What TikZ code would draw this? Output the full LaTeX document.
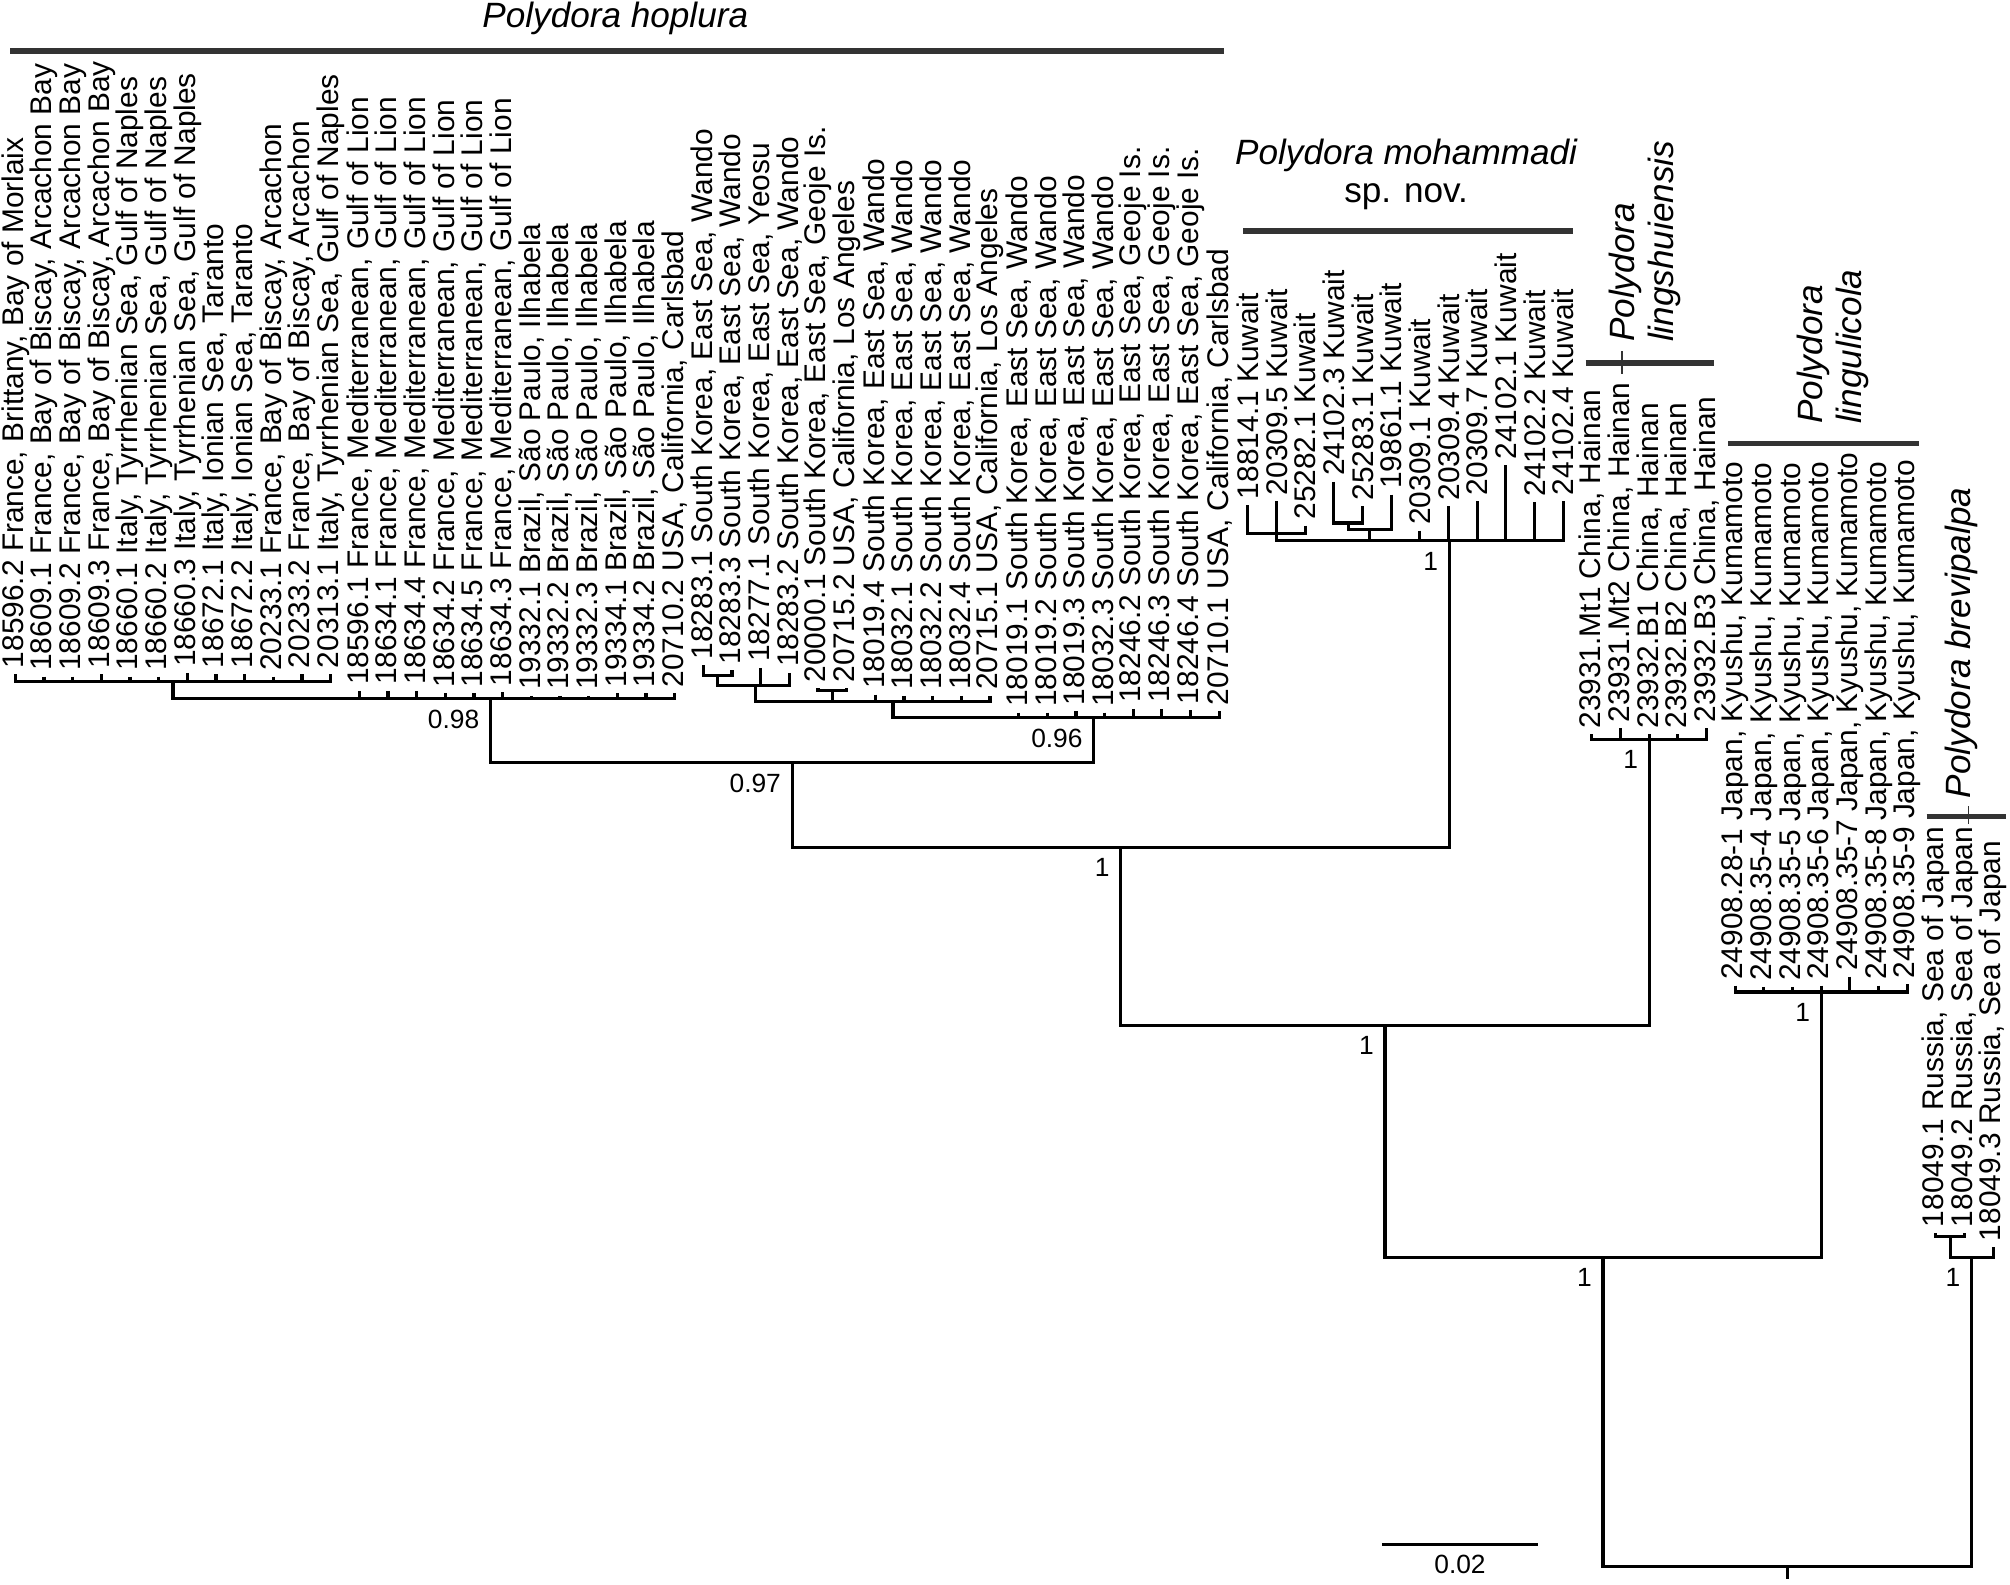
\documentclass[tikz,border=0pt]{standalone}
\usepackage{fontspec}
\setmainfont{Liberation Sans}
\usepackage{tikz}
\usepackage{xcolor}

\begin{document}
\begin{tikzpicture}[x=0.28664cm, y=-0.012819cm,
        br/.style={line width=0.9pt, line join=miter},
        tiplab/.style={rotate=90, anchor=west, inner sep=1.5pt, font=\fontsize{8.5}{10}\selectfont},
        supp/.style={anchor=north east, inner sep=1pt, xshift=-2pt, yshift=-2pt, font=\fontsize{7.5}{9}\selectfont},
        clade/.style={inner sep=1pt, font=\fontsize{10}{11}\selectfont\itshape},
        cladebar/.style={line width=1.6pt, draw=black!80},
        cladetick/.style={line width=0.4pt, draw=black!80}]
        \useasboundingbox (-0.5367,0) rectangle (69.589,1236);

        \coordinate (nA)  at ( 5.5,    532);
        \coordinate (n98) at (16.577,  545);
        \coordinate (nN1) at (24.5,    527);
        \coordinate (nN2) at (25.833,  535);
        \coordinate (nP)  at (28.5,    539);
        \coordinate (nN3) at (30.619,  547);
        \coordinate (n96) at (37.624,  560);
        \coordinate (n97) at (27.10,   595);
        \coordinate (nM1) at (44.0,    416);
        \coordinate (nM2) at (46.5,    408);
        \coordinate (nM3) at (47.25,   413);
        \coordinate (nM0) at (50.03,   422);
        \coordinate (nH)  at (38.566,  661);
        \coordinate (nL)  at (57.0,    577);
        \coordinate (nX)  at (47.783,  800);
        \coordinate (nJ)  at (63.0,    774);
        \coordinate (nY)  at (55.39,   981);
        \coordinate (nB1) at (67.5,    965);
        \coordinate (nB)  at (68.25,   981);
        \coordinate (nR)  at (61.82,  1222);
        \coordinate (root) at (61.82, 1232);

        \foreach \idx/\ytop/\anc/\lbl in {
            0/526/nA/{18596.2 France, Brittany, Bay of Morlaix},
            1/528/nA/{18609.1 France, Bay of Biscay, Arcachon Bay},
            2/528/nA/{18609.2 France, Bay of Biscay, Arcachon Bay},
            3/526/nA/{18609.3 France, Bay of Biscay, Arcachon Bay},
            4/528/nA/{18660.1 Italy, Tyrrhenian Sea, Gulf of Naples},
            5/528/nA/{18660.2 Italy, Tyrrhenian Sea, Gulf of Naples},
            6/525/nA/{18660.3 Italy, Tyrrhenian Sea, Gulf of Naples},
            7/526/nA/{18672.1 Italy, Ionian Sea, Taranto},
            8/526/nA/{18672.2 Italy, Ionian Sea, Taranto},
            9/528/nA/{20233.1 France, Bay of Biscay, Arcachon},
            10/526/nA/{20233.2 France, Bay of Biscay, Arcachon},
            11/526/nA/{20313.1 Italy, Tyrrhenian Sea, Gulf of Naples},
            12/539/n98/{18596.1 France, Mediterranean, Gulf of Lion},
            13/539/n98/{18634.1 France, Mediterranean, Gulf of Lion},
            14/539/n98/{18634.4 France, Mediterranean, Gulf of Lion},
            15/541/n98/{18634.2 France, Mediterranean, Gulf of Lion},
            16/541/n98/{18634.5 France, Mediterranean, Gulf of Lion},
            17/540/n98/{18634.3 France, Mediterranean, Gulf of Lion},
            18/543/n98/{19332.1 Brazil, São Paulo, Ilhabela},
            19/543/n98/{19332.2 Brazil, São Paulo, Ilhabela},
            20/543/n98/{19332.3 Brazil, São Paulo, Ilhabela},
            21/541/n98/{19334.1 Brazil, São Paulo, Ilhabela},
            22/541/n98/{19334.2 Brazil, São Paulo, Ilhabela},
            23/541/n98/{20710.2 USA, California, Carlsbad},
            24/519/nN1/{18283.1 South Korea, East Sea, Wando},
            25/523/nN1/{18283.3 South Korea, East Sea, Wando},
            26/521/nN2/{18277.1 South Korea, East Sea, Yeosu},
            27/525/nN2/{18283.2 South Korea, East Sea, Wando},
            28/537/nP/{20000.1 South Korea, East Sea, Geoje Is.},
            29/537/nP/{20715.2 USA, California, Los Angeles},
            30/542/nN3/{18019.4 South Korea, East Sea, Wando},
            31/543/nN3/{18032.1 South Korea, East Sea, Wando},
            32/543/nN3/{18032.2 South Korea, East Sea, Wando},
            33/543/nN3/{18032.4 South Korea, East Sea, Wando},
            34/543/nN3/{20715.1 USA, California, Los Angeles},
            35/556/n96/{18019.1 South Korea, East Sea, Wando},
            36/556/n96/{18019.2 South Korea, East Sea, Wando},
            37/555/n96/{18019.3 South Korea, East Sea, Wando},
            38/556/n96/{18032.3 South Korea, East Sea, Wando},
            39/553/n96/{18246.2 South Korea, East Sea, Geoje Is.},
            40/553/n96/{18246.3 South Korea, East Sea, Geoje Is.},
            41/554/n96/{18246.4 South Korea, East Sea, Geoje Is.},
            42/555/n96/{20710.1 USA, California, Carlsbad},
            43/394/nM1/{18814.1 Kuwait},
            44/391/nM1/{20309.5 Kuwait},
            45/410/nM1/{25282.1 Kuwait},
            46/376/nM2/{24102.3 Kuwait},
            47/395/nM2/{25283.1 Kuwait},
            48/386/nM3/{19861.1 Kuwait},
            49/414/nM0/{20309.1 Kuwait},
            50/395/nM0/{20309.4 Kuwait},
            51/391/nM0/{20309.7 Kuwait},
            52/363/nM0/{24102.1 Kuwait},
            53/392/nM0/{24102.2 Kuwait},
            54/391/nM0/{24102.4 Kuwait},
            55/573/nL/{23931.Mt1 China, Hainan},
            56/568/nL/{23931.Mt2 China, Hainan},
            57/573/nL/{23932.B1 China, Hainan},
            58/573/nL/{23932.B2 China, Hainan},
            59/568/nL/{23932.B3 China, Hainan},
            60/769/nJ/{24908.28-1 Japan, Kyushu, Kumamoto},
            61/770/nJ/{24908.35-4 Japan, Kyushu, Kumamoto},
            62/770/nJ/{24908.35-5 Japan, Kyushu, Kumamoto},
            63/769/nJ/{24908.35-6 Japan, Kyushu, Kumamoto},
            64/762/nJ/{24908.35-7 Japan, Kyushu, Kumamoto},
            65/769/nJ/{24908.35-8 Japan, Kyushu, Kumamoto},
            66/768/nJ/{24908.35-9 Japan, Kyushu, Kumamoto},
            67/962/nB1/{18049.1 Russia, Sea of Japan},
            68/962/nB1/{18049.2 Russia, Sea of Japan},
            69/973/nB/{18049.3 Russia, Sea of Japan}}{
            \node (t\idx) at (\idx,\ytop) [tiplab] {\lbl};
            \draw[br] (t\idx.west) |- (\anc);
        }

        \draw[br] (nA)  |- (n98);
        \draw[br] (n98) |- (n97);
        \draw[br] (nN1) |- (nN2);
        \draw[br] (nN2) |- (nN3);
        \draw[br] (nP)  |- (nN3);
        \draw[br] (nN3) |- (n96);
        \draw[br] (n96) |- (n97);
        \draw[br] (n97) |- (nH);
        \draw[br] (nM2) |- (nM3);
        \draw[br] (nM1) |- (nM0);
        \draw[br] (nM3) |- (nM0);
        \draw[br] (nM0) |- (nH);
        \draw[br] (nH)  |- (nX);
        \draw[br] (nL)  |- (nX);
        \draw[br] (nX)  |- (nY);
        \draw[br] (nJ)  |- (nY);
        \draw[br] (nY)  |- (nR);
        \draw[br] (nB1) |- (nB);
        \draw[br] (nB)  |- (nR);
        \draw[br] (nR) -- (root);

        \node (s98) at (n98) [supp] {0.98};
        \node (s97) at (n97) [supp] {0.97};
        \node (s96) at (n96) [supp] {0.96};
        \node (sH)  at (nH)  [supp] {1};
        \node (sM0) at (nM0) [supp] {1};
        \node (sL)  at (nL)  [supp] {1};
        \node (sX)  at (nX)  [supp] {1};
        \node (sJ)  at (nJ)  [supp] {1};
        \node (sY)  at (nY)  [supp] {1};
        \node (sB)  at (nB)  [supp] {1};

        \node (hopl) at (20.93, 14) [clade] {Polydora hoplura};
        \draw[cladebar] (-0.18,40) -- (42.17,40);
        \node (moham) at (48.52, 136) [clade, align=center] {Polydora mohammadi\\\upshape sp. nov.};
        \draw[cladebar] (42.84,180) -- (54.34,180);
        \node (lings) at (56.84, 270) [clade, rotate=90, anchor=west, align=left] {Polydora\\lingshuiensis};
        \draw[cladebar] (54.78,283) -- (59.26,283);
        \draw[cladetick] (56.05,274) -- (56.05,292);
        \node (lingu) at (63.42, 334) [clade, rotate=90, anchor=west, align=left] {Polydora\\lingulicola};
        \draw[cladebar] (59.75,346) -- (66.41,346);
        \node (brevi) at (67.89, 626) [clade, rotate=90, anchor=west] {Polydora brevipalpa};
        \draw[cladebar] (66.68,637) -- (69.45,637);
        \draw[cladetick] (68.15,629) -- (68.15,643);

        \coordinate (sbL) at (47.67, 1205);
        \coordinate (sbR) at (53.13, 1205);
        \draw[br, line width=1.1pt] (sbL) to node[midway, below=1.5pt, inner sep=1pt, font=\fontsize{7.5}{9}\selectfont] {0.02} (sbR);
    \end{tikzpicture}
\end{document}
